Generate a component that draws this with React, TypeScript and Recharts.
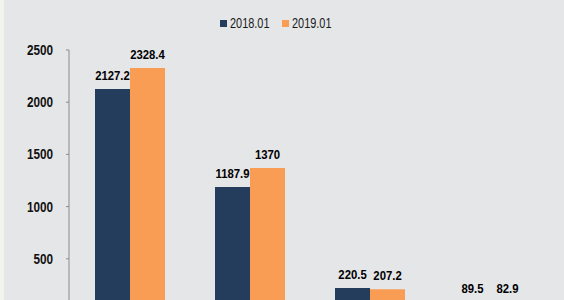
import React from "react";
import { BarChart, Bar, XAxis, YAxis, Legend, LabelList } from "recharts";

const categories = ["A", "B", "C", "D"];
const series2018 = [2127.2, 1187.9, 220.5, 89.5];
const series2019 = [2328.4, 1370, 207.2, 82.9];
const yTicks = [500, 1000, 1500, 2000, 2500];
const seriesNames = ["2018.01", "2019.01"];

const data = categories.map((c, i) => ({
  name: c,
  a: series2018[i],
  b: series2019[i],
}));

const NAVY = "#243d5d";
const ORANGE = "#f99d55";
const FONT = "'Liberation Sans', Arial, sans-serif";

const LegendContent = () => (
  <div
    style={{
      height: 35,
      display: "flex",
      justifyContent: "center",
      alignItems: "flex-start",
      fontFamily: FONT,
      fontSize: 14,
      lineHeight: "16px",
      color: "#1a1a1a",
    }}
  >
    {[NAVY, ORANGE].map((col, i) => (
      <div key={i} style={{ display: "flex", alignItems: "center", marginRight: i === 0 ? 13 : 0 }}>
        <span style={{ width: 7, height: 7, background: col, marginRight: 3, display: "inline-block" }} />
        <span
          style={{
            display: "inline-block",
            width: 39,
            whiteSpace: "nowrap",
            transform: "scaleX(0.78)",
            transformOrigin: "0 50%",
          }}
        >
          {seriesNames[i]}
        </span>
      </div>
    ))}
  </div>
);

const YTick = (props: any) => {
  const { x, y, payload } = props;
  return (
    <text
      transform={`translate(${x},${y}) scale(0.84,1)`}
      textAnchor="end"
      dy="0.36em"
      fontSize={14}
      fontWeight="bold"
      fontFamily={FONT}
      fill="#111"
    >
      {payload.value}
    </text>
  );
};

const BarLabel = (props: any) => {
  const { x, y, width, value } = props;
  return (
    <text
      transform={`translate(${x + width / 2},${y - 9}) scale(0.84,1)`}
      textAnchor="middle"
      fontSize={13.5}
      fontWeight="bold"
      fontFamily={FONT}
      fill="#000"
    >
      {value}
    </text>
  );
};

export default function App() {
  return (
    <div
      style={{
        position: "fixed",
        left: 0,
        top: 0,
        width: 564,
        height: 300,
        overflow: "hidden",
        background: "#e5e6e8",
      }}
    >
      <div style={{ position: "absolute", left: 0, top: 0, width: 4, height: 300, background: "#f3f3ee" }} />
      <BarChart
        width={564}
        height={340}
        data={data}
        margin={{ top: 15, right: 14, left: 0, bottom: 29 }}
        barGap={0}
        barSize={35}
      >
        <Legend verticalAlign="top" content={<LegendContent />} />
        <XAxis dataKey="name" hide padding={{ left: 1, right: 0 }} />
        <YAxis
          width={69}
          domain={[0, 2500]}
          ticks={yTicks}
          interval={0}
          tickSize={3}
          tickMargin={13}
          axisLine={{ stroke: "#8c8c8c" }}
          tickLine={{ stroke: "#8c8c8c" }}
          tick={<YTick />}
        />
        <Bar dataKey="a" name={seriesNames[0]} fill={NAVY} isAnimationActive={false}>
          <LabelList dataKey="a" content={<BarLabel />} />
        </Bar>
        <Bar dataKey="b" name={seriesNames[1]} fill={ORANGE} isAnimationActive={false}>
          <LabelList dataKey="b" content={<BarLabel />} />
        </Bar>
      </BarChart>
    </div>
  );
}
